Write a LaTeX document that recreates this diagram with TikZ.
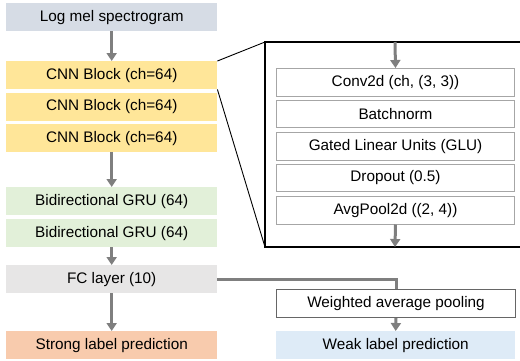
\documentclass[tikz,border=0pt]{standalone}
\usepackage{fontspec}
\setmainfont{Liberation Sans}
\usetikzlibrary{arrows.meta}
\definecolor{cLog}{HTML}{D6DCE5}
\definecolor{cCnn}{HTML}{FFE699}
\definecolor{cGru}{HTML}{E2F0D9}
\definecolor{cFc}{HTML}{E7E6E6}
\definecolor{cStrong}{HTML}{F8CBAD}
\definecolor{cWeak}{HTML}{DEEBF7}
\definecolor{cArrow}{HTML}{7F7F7F}
\definecolor{cBorder}{HTML}{A6A6A6}
\tikzset{
  blk/.style={minimum width=211pt, minimum height=28pt, inner sep=0pt, anchor=north west, font=\fontsize{15.3}{18}\selectfont},
  inbox/.style={minimum width=238pt, minimum height=27.5pt, inner sep=0pt, anchor=north west, draw=cBorder, line width=1pt, fill=white, font=\fontsize{15.3}{18}\selectfont},
  garrow/.style={draw=cArrow, line width=3pt, -{Triangle[width=10pt,length=8pt]}},
  gline/.style={draw=cArrow, line width=3pt},
  zoomline/.style={draw=black, line width=0.9pt}
}
\begin{document}
\begin{tikzpicture}[x=1pt,y=-1pt]
\useasboundingbox (0,0) rectangle (520,360);
% left column
\node[blk, fill=cLog] (log) at (6,3) {Log mel spectrogram};
\node[blk, fill=cCnn] (cnn1) at (6,61) {CNN Block (ch=64)};
\node[blk, fill=cCnn] (cnn2) at (6,92.5) {CNN Block (ch=64)};
\node[blk, fill=cCnn] (cnn3) at (6,124) {CNN Block (ch=64)};
\node[blk, fill=cGru] (gru1) at (6,187) {Bidirectional GRU (64)};
\node[blk, fill=cGru] (gru2) at (6,219) {Bidirectional GRU (64)};
\node[blk, fill=cFc] (fc) at (6,265) {FC layer (10)};
\node[blk, fill=cStrong] (strong) at (6,331) {Strong label prediction};
% right bottom
\node[inbox, draw=black!60, minimum width=239pt, minimum height=28pt] (wap) at (276,289) {Weighted average pooling};
\node[blk, fill=cWeak, minimum width=239pt] (weak) at (276,331) {Weak label prediction};
% zoom box
\coordinate (zbtl) at (265,42);
\coordinate (zbbl) at (265,247);
\coordinate (zbtr) at (522,42);
\coordinate (zbbr) at (522,247);
\draw[line width=1.1pt] (zbtr) -- (zbtl) -- (zbbl) -- (zbbr);
\draw[zoomline] (cnn1.north east) -- (zbtl);
\draw[zoomline] (cnn1.south east) -- (zbbl);
\node[inbox] (conv) at (276,68) {Conv2d (ch, (3, 3))};
\node[inbox] (bn) at (276,99.5) {Batchnorm};
\node[inbox] (glu) at (276,132) {Gated Linear Units (GLU)};
\node[inbox] (drop) at (276,163.5) {Dropout (0.5)};
\node[inbox] (pool) at (276,196) {AvgPool2d ((2, 4))};
\coordinate (intop) at (395,42);
\coordinate (inbot) at (395,247);
% arrows
\draw[garrow] (log.south) -- (cnn1.north);
\draw[garrow] (cnn3.south) -- (gru1.north);
\draw[garrow] (gru2.south) -- (fc.north);
\draw[garrow] (fc.south) -- (strong.north);
\draw[gline] (fc.east) -- (fc.east -| wap.north) -- (wap.north);
\draw[garrow] (wap.south) -- (weak.north);
\draw[garrow] (intop) -- (conv.north);
\draw[garrow] (pool.south) -- (inbot);
\end{tikzpicture}
\end{document}
